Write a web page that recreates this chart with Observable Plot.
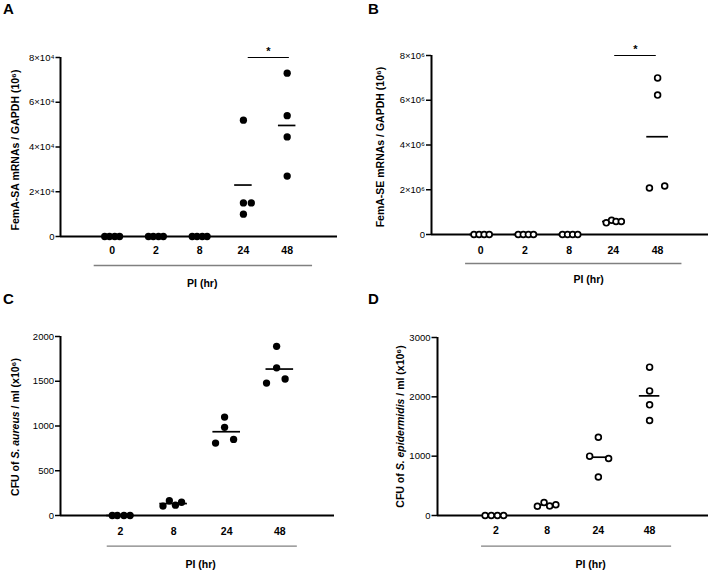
<!DOCTYPE html>
<html><head><meta charset="utf-8">
<script src="https://cdn.jsdelivr.net/npm/d3@7"></script>
<script src="https://cdn.jsdelivr.net/npm/@observablehq/plot@0.6"></script>
<style>
body{margin:0;background:#fff;font-family:"Liberation Sans",Arial,sans-serif;}
#wrap{position:relative;width:709px;height:570px;background:#fff;overflow:hidden;}
.panel{position:absolute;}
.tag{position:absolute;font-weight:bold;font-size:15px;line-height:15px;color:#000;}
</style></head><body><div id="wrap"></div>
<script>
// ---- data ----
const hoursAB = ["0", "2", "8", "24", "48"];
const hoursCD = ["2", "8", "24", "48"];

const femASA = [[0,0,0,0],[0,0,0,0],[0,0,0,0],[52000,15000,15000,10000],[73000,54000,44500,27000]];
const jitterA = [[-0.17,-0.06,0.06,0.17],[-0.17,-0.06,0.06,0.17],[-0.17,-0.06,0.06,0.17],[0,0,0.18,0],[0,0,0,0]];

const femASE = [[0,0,0,0],[0,0,0,0],[0,0,0,0],[520000,640000,580000,580000],[7000000,6230000,2080000,2170000]];
const jitterB = [[-0.15,-0.035,0.08,0.195],[-0.15,-0.035,0.08,0.195],[-0.15,-0.035,0.08,0.195],[-0.16,-0.04,0.06,0.18],[0,0,-0.185,0.16]];

const cfuSA = [[0,0,0,0],[105,165,115,148],[1100,985,809,850],[1890,1650,1480,1525]];
const jitterC = [[-0.155,-0.06,0.065,0.18],[-0.2,-0.08,0.035,0.15],[-0.04,-0.04,-0.21,0.13],[-0.06,-0.06,-0.25,0.1]];

const cfuSE = [[0,0,0,0],[155,220,160,180],[1320,1000,960,650],[2500,2100,1865,1600]];
const jitterD = [[-0.21,-0.09,0.03,0.15],[-0.19,-0.06,0.05,0.17],[0,-0.17,0.2,0],[0,0,0,0]];

const ticksA = [0, 20000, 40000, 60000, 80000];
const tickLabelsA = ["0", "2×10⁴", "4×10⁴", "6×10⁴", "8×10⁴"];
const ticksB = [0, 2e6, 4e6, 6e6, 8e6];
const tickLabelsB = ["0", "2×10⁶", "4×10⁶", "6×10⁶", "8×10⁶"];
const ticksC = [0, 500, 1000, 1500, 2000];
const ticksD = [0, 1000, 2000, 3000];

const labelA = "FemA-SA mRNAs / GAPDH (10⁶)";
const labelB = "FemA-SE mRNAs / GAPDH (10⁶)";
const labelC = "CFU of S. aureus / ml (x10⁶)";
const labelD = "CFU of S. epidermidis / ml (x10⁶)";
const xLabel = "PI (hr)";

// ---- panel builder ----
function panel(cfg) {
  const pts = [];
  cfg.values.forEach((grp, i) => grp.forEach((v, k) => pts.push({i, v, j: cfg.jitter[i][k]})));
  const means = cfg.values.map((grp, i) => ({i, m: d3.mean(grp)}));
  const yMax = cfg.yTicks[cfg.yTicks.length - 1];
  const marks = [
    Plot.ruleY(means, {y: "m", x1: d => d.i - cfg.meanHalf, x2: d => d.i + cfg.meanHalf, stroke: "#000", strokeWidth: 1.7}),
    Plot.ruleY([0], {stroke: "#000", strokeWidth: 2}),
    Plot.ruleX([cfg.xDomain[0]], {y1: 0, y2: yMax, stroke: "#000", strokeWidth: 2}),
    Plot.axisY({ticks: cfg.yTicks, tickFormat: d => cfg.yLabels[cfg.yTicks.indexOf(d)], tickSize: cfg.tickLen, tickPadding: 1.5, strokeWidth: 1.5, fontSize: 9.5, fill: "#000", label: null}),
    Plot.axisX({ticks: cfg.cats.map((c, i) => i), tickFormat: i => cfg.cats[i], tickSize: 0, tickPadding: cfg.xPad, fontWeight: "bold", fontSize: 10.5, fill: "#000", label: null}),
    Plot.dot(pts, cfg.open
      ? {x: d => d.i + d.j, y: "v", r: 2.9, fill: "#fff", stroke: "#000", strokeWidth: 1.7}
      : {x: d => d.i + d.j, y: "v", r: 3.65, fill: "#000", stroke: "none"}),
    Plot.ruleY([0], {x1: cfg.bracket[0], x2: cfg.bracket[1], dy: cfg.bracketDy, stroke: "#808080", strokeWidth: 1.3}),
    Plot.text([xLabel], {text: d => d, x: cfg.piX, y: 0, dy: cfg.piDy, fontWeight: "bold", fontSize: 10.5, fill: "#000"}),
    Plot.text([cfg.yLabel], {text: d => d, frameAnchor: "left", textAnchor: "middle", rotate: -90, dx: cfg.yLabelDx, dy: cfg.yLabelDy, fontWeight: "bold", fontSize: 10.5, fill: "#000"})
  ];
  if (cfg.sig) {
    marks.push(Plot.ruleY([yMax], {x1: cfg.sig[0], x2: cfg.sig[1], stroke: "#000", strokeWidth: 1.2}));
    marks.push(Plot.text(["*"], {text: d => d, x: cfg.sig[2], y: yMax, dy: -6, fontSize: 11, fontWeight: "bold", fill: "#000"}));
  }
  const svg = Plot.plot({
    width: cfg.width, height: cfg.height,
    marginLeft: cfg.ml, marginRight: cfg.mr, marginTop: cfg.mt, marginBottom: cfg.mb,
    style: {fontFamily: "'Liberation Sans', Arial, sans-serif", color: "#000", background: "transparent", overflow: "visible"},
    x: {type: "linear", domain: cfg.xDomain},
    y: {type: "linear", domain: [0, yMax]},
    marks
  });
  if (cfg.italic) {
    d3.select(svg).selectAll("text").filter(function () { return this.textContent === cfg.yLabel; }).each(function () {
      const t = d3.select(this);
      const [pre, post] = cfg.yLabel.split(cfg.italic);
      t.text(null);
      t.append("tspan").text(pre);
      t.append("tspan").attr("font-style", "italic").text(cfg.italic);
      t.append("tspan").text(post);
    });
  }
  const div = document.createElement("div");
  div.className = "panel";
  div.style.left = cfg.left + "px";
  div.style.top = cfg.top + "px";
  div.appendChild(svg);
  document.getElementById("wrap").appendChild(div);
  const tag = document.createElement("div");
  tag.className = "tag";
  tag.textContent = cfg.tag;
  tag.style.left = (cfg.left + cfg.tagDx) + "px";
  tag.style.top = (cfg.top + 1) + "px";
  document.getElementById("wrap").appendChild(tag);
}

panel({tag: "A", tagDx: 3, left: 0, top: 0, width: 354, height: 290, ml: 60, mr: 17, mt: 57, mb: 54,
  xDomain: [-1.18, 5.15], cats: hoursAB, values: femASA, jitter: jitterA, open: false, tickLen: 4.5,
  yTicks: ticksA, yLabels: tickLabelsA, yLabel: labelA, yLabelDx: -45, yLabelDy: 3,
  xPad: 10.5, meanHalf: 0.2, bracket: [-0.41, 4.58], bracketDy: 29, piX: 2.06, piDy: 47,
  sig: [3.11, 4.05, 3.57]});

panel({tag: "B", tagDx: 13, left: 355, top: 0, width: 354, height: 290, ml: 76, mr: 1, mt: 55, mb: 56,
  xDomain: [-1.11, 5.15], cats: hoursAB, values: femASE, jitter: jitterB, open: true, tickLen: 5,
  yTicks: ticksB, yLabels: tickLabelsB, yLabel: labelB, yLabelDx: -51, yLabelDy: 2,
  xPad: 12, meanHalf: 0.245, bracket: [-0.34, 4.55], bracketDy: 29, piX: 2.44, piDy: 45,
  sig: [3.03, 3.97, 3.5]});

panel({tag: "C", tagDx: 3, left: 0, top: 290, width: 354, height: 280, ml: 60, mr: 20, mt: 46, mb: 55,
  xDomain: [-1.13, 4.03], cats: hoursCD, values: cfuSA, jitter: jitterC, open: false, tickLen: 5,
  yTicks: ticksC, yLabels: ticksC.map(String), yLabel: labelC, italic: "S. aureus", yLabelDx: -45, yLabelDy: 1,
  xPad: 12.5, meanHalf: 0.26, bracket: [-0.25, 3.33], bracketDy: 30.7, piX: 1.51, piDy: 48.7});

panel({tag: "D", tagDx: 13, left: 355, top: 290, width: 354, height: 280, ml: 82, mr: 1, mt: 47, mb: 55,
  xDomain: [-1.14, 4.15], cats: hoursCD, values: cfuSE, jitter: jitterD, open: true, tickLen: 5.5,
  yTicks: ticksD, yLabels: ticksD.map(String), yLabel: labelD, italic: "S. epidermidis", yLabelDx: -37, yLabelDy: 0,
  xPad: 11, meanHalf: 0.2, bracket: [-0.28, 3.43], bracketDy: 30.7, piX: 1.85, piDy: 49});
</script></body></html>
